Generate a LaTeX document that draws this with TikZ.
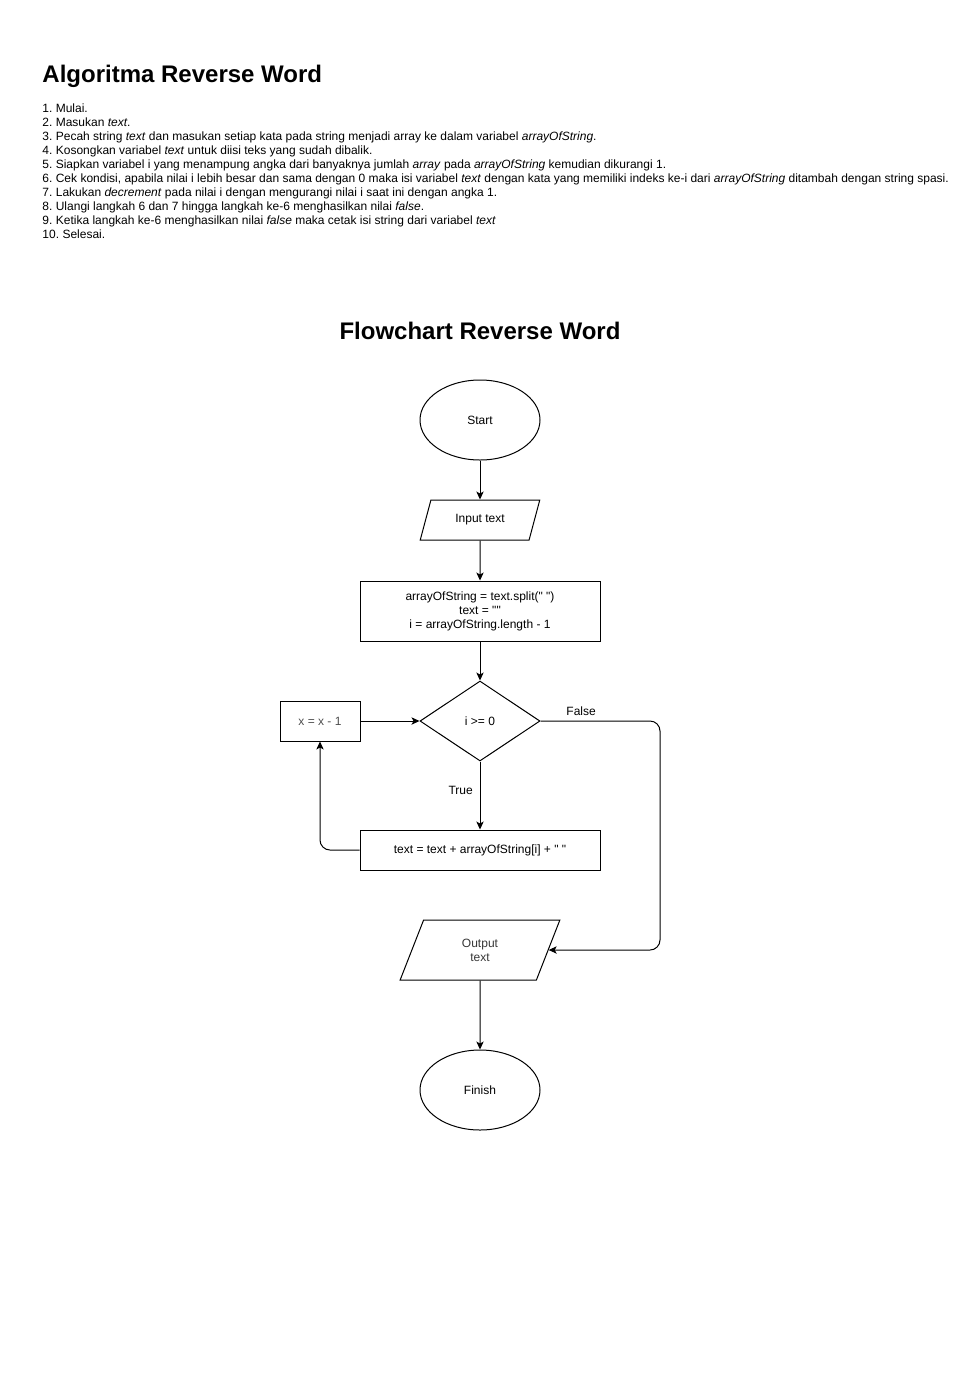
\documentclass[tikz,border=0pt]{standalone}
\usepackage{fontspec}
\setmainfont{Liberation Sans}
\newfontfamily\flowfont{Liberation Sans}
\usetikzlibrary{shapes.geometric, arrows.meta}
\frenchspacing

\definecolor{softgray}{HTML}{4D4D4D}

\tikzset{
    terminal/.style={ellipse, draw, minimum width=90pt, minimum height=60pt, inner sep=0pt},
    inout/.style={trapezium, draw, trapezium stretches=true, inner sep=0pt, align=center},
    process/.style={rectangle, draw, minimum width=180pt, inner sep=0pt, align=center},
    decision/.style={diamond, draw, minimum width=90pt, minimum height=60pt, inner sep=0pt},
    flow/.style={->, rounded corners=7.5pt}
}

\begin{document}
\begin{tikzpicture}[x=0.75pt, y=-0.75pt, line width=0.75pt,
    font={\flowfont\fontsize{9}{10.5}\selectfont},
    >={Stealth[length=6pt, width=5.5pt, inset=1.5pt]}]
    \useasboundingbox (0,0) rectangle (980,1390);

    % Algorithm text
    \node[anchor=base west, inner sep=0pt, font={\flowfont\bfseries\fontsize{18}{21}\selectfont}] (algtitle) at (42,82) {Algoritma Reverse Word};
    \foreach \i/\step in {
        1/{Mulai.},
        2/{Masukan \textit{text}.},
        3/{Pecah string \textit{text} dan masukan setiap kata pada string menjadi array ke dalam variabel \textit{arrayOfString}.},
        4/{Kosongkan variabel \textit{text} untuk diisi teks yang sudah dibalik.},
        5/{Siapkan variabel i yang menampung angka dari banyaknya jumlah \textit{array} pada \textit{arrayOfString} kemudian dikurangi 1.},
        6/{Cek kondisi, apabila nilai i lebih besar dan sama dengan 0 maka isi variabel \textit{text} dengan kata yang memiliki indeks ke-i dari \textit{arrayOfString} ditambah dengan string spasi.},
        7/{Lakukan \textit{decrement} pada nilai i dengan mengurangi nilai i saat ini dengan angka 1.},
        8/{Ulangi langkah 6 dan 7 hingga langkah ke-6 menghasilkan nilai \textit{false}.},
        9/{Ketika langkah ke-6 menghasilkan nilai \textit{false} maka cetak isi string dari variabel \textit{text}},
        10/{Selesai.}}
    {
        \node[anchor=base west, inner sep=0pt] (step\i) at (42,{112+14*(\i-1)}) {\i. \step};
    }

    % Flowchart
    \node[anchor=base, inner sep=0pt, font={\flowfont\bfseries\fontsize{18}{21}\selectfont}] (flowtitle) at (480,339) {Flowchart Reverse Word};

    \node[terminal] (start) at (480,420) {Start};
    \node[inout, minimum width=90pt, minimum height=30pt,
        trapezium left angle=63.43, trapezium right angle=116.57] (input) at (480,520) {Input text};
    \node[process, minimum height=45pt] (init) at (480,611)
        {arrayOfString = text.split(" ")\\text = ""\\i = arrayOfString.length - 1};
    \node[decision] (check) at (480,721) {i >= 0};
    \node[rectangle, draw, minimum width=60pt, minimum height=30pt, text=softgray] (decr) at (320,721) {x = x - 1};
    \node[process, minimum height=30pt] (append) at (480,850) {text = text + arrayOfString[i] + " "};
    \node[inout, minimum width=120pt, minimum height=45pt,
        trapezium left angle=71.57, trapezium right angle=108.43, text=softgray!70!black] (output) at (480,950) {Output\\text};
    \node[terminal] (finish) at (480,1090) {Finish};

    \coordinate (falsebend) at (660,721);

    % Connectors
    \draw[->] (start) -- (input);
    \draw[->] (input) -- (init);
    \draw[->] (init) -- (check);
    \draw[->] (check) -- node[pos=0.42, left=5pt, inner sep=0pt] (truelbl) {True} (append);
    \draw[flow] (append.west) -| (decr.south);
    \draw[->] (decr) -- (check);
    \draw[flow] (check.east) -- node[pos=0.34, above] (falselbl) {False} (falsebend) |- (output.east);
    \draw[->] (output) -- (finish);
\end{tikzpicture}
\end{document}
